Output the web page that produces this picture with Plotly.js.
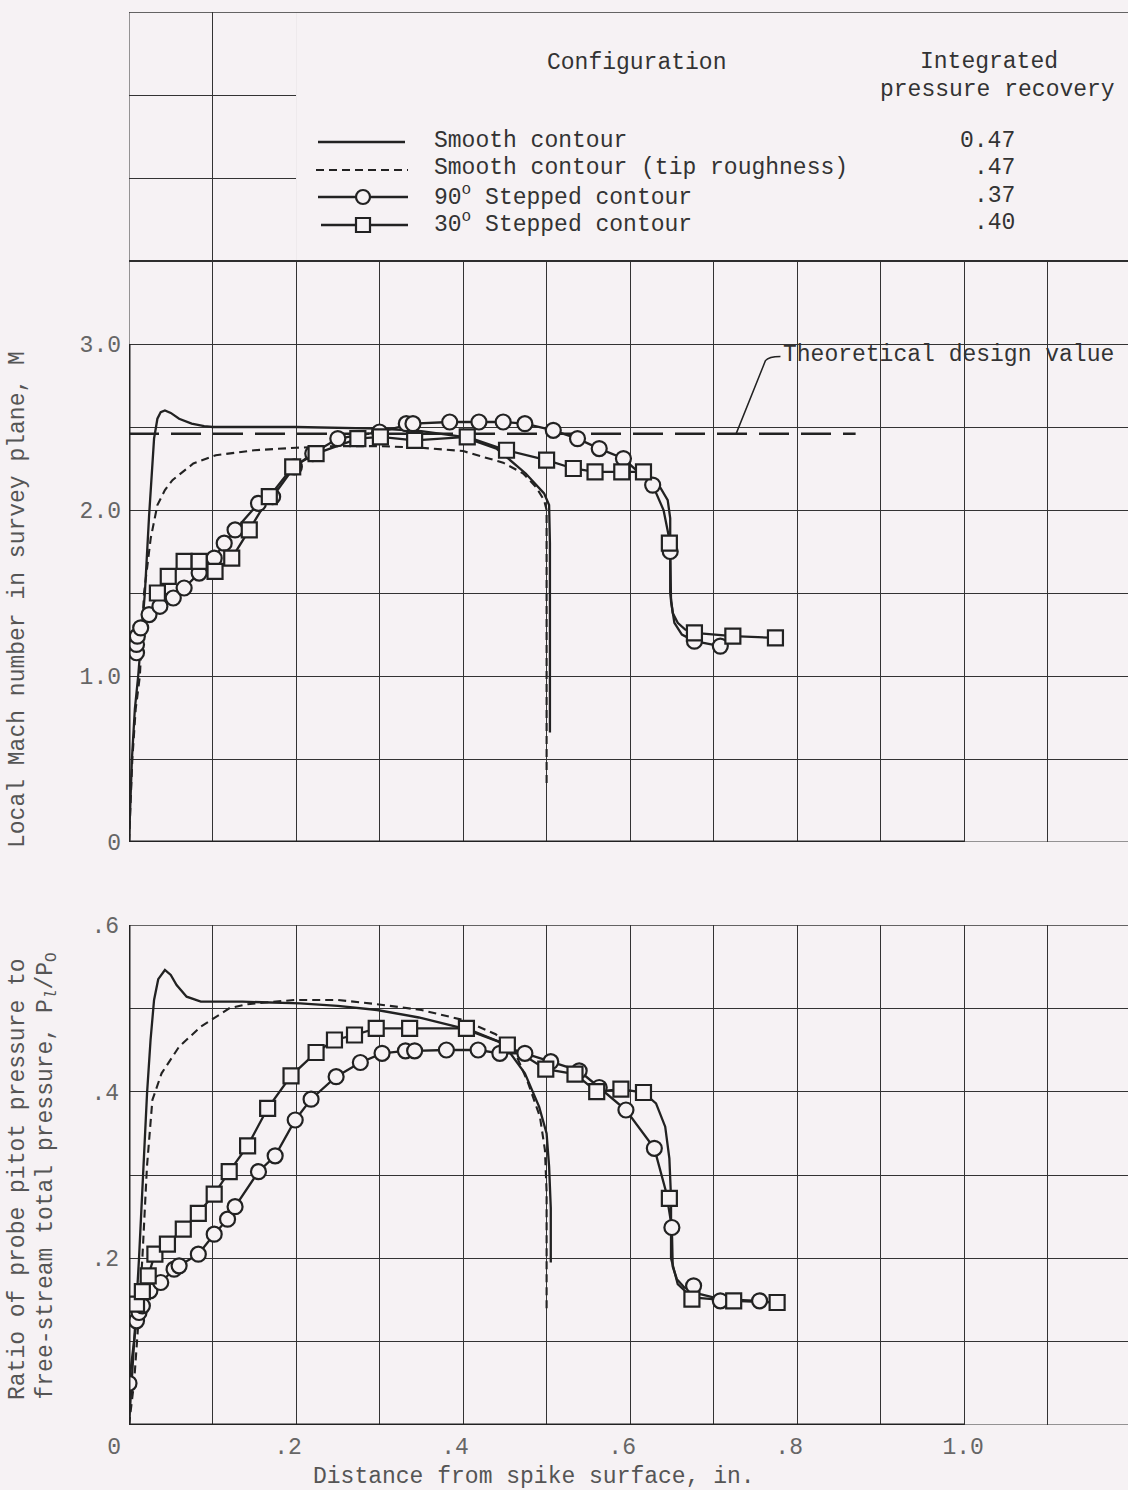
<!DOCTYPE html>
<html>
<head>
<meta charset="utf-8">
<script src="https://cdn.plot.ly/plotly-3.0.1.min.js"></script>
<style>
html,body{margin:0;padding:0;background:#f6f2f4;}
#chart{width:1128px;height:1490px;}
</style>
</head>
<body>
<div id="chart"></div>
<script>
// ---------------- DATA ----------------
// Top panel: local Mach number vs distance from spike surface (in.)
const machSmoothX = [0,0.002,0.0035,0.007,0.011,0.015,0.019,0.024,0.03,0.034,0.038,0.043,0.05,0.06,0.075,0.09,0.1,0.2,0.3,0.35,0.40,0.44,0.475,0.497,0.503,0.504,0.504];
const machSmoothY = [0,0.3,0.5,0.8,1.0,1.25,1.5,1.96,2.43,2.55,2.59,2.60,2.585,2.55,2.52,2.505,2.5,2.5,2.49,2.475,2.44,2.37,2.22,2.1,2.03,1.8,0.66];

const machRoughX = [0,0.004,0.008,0.013,0.018,0.026,0.034,0.043,0.052,0.064,0.077,0.104,0.15,0.2,0.25,0.30,0.35,0.40,0.448,0.472,0.487,0.497,0.5,0.5,0.5];
const machRoughY = [0,0.5,0.8,1.0,1.5,1.83,2.03,2.12,2.18,2.23,2.28,2.33,2.36,2.375,2.385,2.385,2.375,2.355,2.285,2.22,2.14,2.06,2.0,1.6,0.34];

const mach90X = [0.009,0.009,0.010,0.014,0.024,0.037,0.053,0.066,0.084,0.102,0.114,0.127,0.155,0.172,0.198,0.22,0.25,0.30,0.332,0.34,0.384,0.419,0.448,0.474,0.508,0.537,0.563,0.592,0.627,0.648,0.677,0.708];
const mach90Y = [1.14,1.19,1.24,1.29,1.37,1.42,1.47,1.53,1.62,1.71,1.80,1.88,2.04,2.08,2.26,2.34,2.43,2.47,2.52,2.52,2.53,2.53,2.53,2.52,2.48,2.43,2.37,2.31,2.15,1.75,1.21,1.18];
const mach90CurveX = [0.009,0.014,0.024,0.037,0.053,0.066,0.084,0.102,0.114,0.127,0.155,0.172,0.198,0.22,0.25,0.30,0.34,0.384,0.419,0.448,0.474,0.508,0.537,0.563,0.592,0.627,0.640,0.646,0.648,0.649,0.653,0.662,0.677,0.708];
const mach90CurveY = [1.14,1.29,1.37,1.42,1.47,1.53,1.62,1.71,1.80,1.88,2.04,2.08,2.26,2.34,2.43,2.47,2.52,2.53,2.53,2.53,2.52,2.48,2.43,2.37,2.31,2.15,2.0,1.85,1.75,1.45,1.32,1.25,1.21,1.18];

const mach30X = [0.034,0.047,0.066,0.084,0.103,0.123,0.144,0.168,0.196,0.224,0.274,0.301,0.342,0.405,0.452,0.50,0.532,0.558,0.59,0.616,0.647,0.677,0.723,0.774];
const mach30Y = [1.50,1.60,1.69,1.69,1.63,1.71,1.88,2.08,2.26,2.34,2.43,2.44,2.42,2.44,2.36,2.30,2.25,2.23,2.23,2.23,1.80,1.26,1.24,1.23];
const mach30CurveX = [0.034,0.047,0.066,0.084,0.103,0.123,0.144,0.168,0.196,0.224,0.274,0.301,0.342,0.405,0.452,0.50,0.532,0.558,0.59,0.616,0.632,0.645,0.648,0.648,0.651,0.657,0.666,0.677,0.723,0.774];
const mach30CurveY = [1.50,1.60,1.69,1.69,1.63,1.71,1.88,2.08,2.26,2.34,2.43,2.44,2.42,2.44,2.36,2.30,2.25,2.23,2.23,2.23,2.17,2.06,1.95,1.50,1.38,1.32,1.28,1.26,1.24,1.23];

const designX = [0, 0.87];
const designM = [2.46, 2.46];

// Bottom panel: probe pitot pressure / free-stream total pressure
const presSmoothX = [0,0.004,0.008,0.012,0.017,0.0216,0.0258,0.030,0.035,0.043,0.05,0.057,0.069,0.086,0.136,0.205,0.25,0.297,0.347,0.40,0.448,0.474,0.491,0.50,0.503,0.505,0.505];
const presSmoothY = [0,0.06,0.13,0.2,0.31,0.398,0.462,0.51,0.535,0.546,0.54,0.528,0.514,0.508,0.508,0.506,0.503,0.498,0.489,0.476,0.458,0.422,0.382,0.35,0.31,0.26,0.195];

const presRoughX = [0,0.006,0.011,0.016,0.0215,0.028,0.039,0.06,0.086,0.12,0.142,0.198,0.25,0.297,0.35,0.40,0.439,0.461,0.478,0.492,0.498,0.500,0.500];
const presRoughY = [0,0.05,0.12,0.2,0.31,0.39,0.422,0.454,0.478,0.50,0.505,0.51,0.51,0.505,0.498,0.486,0.469,0.45,0.41,0.37,0.33,0.28,0.137];

const pres90X = [0.0,0.009,0.012,0.016,0.025,0.038,0.054,0.06,0.083,0.102,0.118,0.127,0.155,0.175,0.199,0.218,0.248,0.277,0.303,0.331,0.342,0.38,0.418,0.444,0.474,0.505,0.539,0.563,0.595,0.629,0.65,0.676,0.708,0.755];
const pres90Y = [0.05,0.125,0.135,0.143,0.161,0.171,0.187,0.191,0.205,0.229,0.247,0.262,0.304,0.323,0.366,0.391,0.418,0.435,0.446,0.449,0.449,0.45,0.45,0.446,0.446,0.436,0.425,0.405,0.378,0.332,0.237,0.167,0.149,0.149];
const pres90CurveX = [0.0,0.009,0.016,0.025,0.038,0.054,0.06,0.083,0.102,0.118,0.127,0.155,0.175,0.199,0.218,0.248,0.277,0.303,0.331,0.342,0.38,0.418,0.444,0.474,0.505,0.539,0.563,0.595,0.629,0.643,0.650,0.651,0.656,0.665,0.684,0.708,0.755];
const pres90CurveY = [0.05,0.125,0.143,0.161,0.171,0.187,0.191,0.205,0.229,0.247,0.262,0.304,0.323,0.366,0.391,0.418,0.435,0.446,0.449,0.449,0.45,0.45,0.446,0.446,0.436,0.425,0.405,0.378,0.332,0.28,0.237,0.19,0.175,0.165,0.157,0.151,0.149];

const pres30X = [0.009,0.016,0.023,0.031,0.046,0.065,0.083,0.102,0.12,0.142,0.166,0.194,0.224,0.246,0.27,0.296,0.336,0.404,0.453,0.499,0.534,0.56,0.589,0.616,0.647,0.674,0.724,0.776];
const pres30Y = [0.145,0.16,0.179,0.205,0.217,0.235,0.254,0.277,0.304,0.335,0.38,0.419,0.447,0.462,0.468,0.476,0.476,0.476,0.456,0.427,0.421,0.40,0.403,0.399,0.272,0.151,0.149,0.147];
const pres30CurveX = [0.009,0.016,0.023,0.031,0.046,0.065,0.083,0.102,0.12,0.142,0.166,0.194,0.224,0.246,0.27,0.296,0.336,0.404,0.453,0.499,0.534,0.56,0.589,0.616,0.631,0.642,0.647,0.649,0.649,0.657,0.674,0.724,0.776];
const pres30CurveY = [0.145,0.16,0.179,0.205,0.217,0.235,0.254,0.277,0.304,0.335,0.38,0.419,0.447,0.462,0.468,0.476,0.476,0.476,0.456,0.427,0.421,0.40,0.403,0.399,0.386,0.358,0.32,0.272,0.2,0.169,0.153,0.149,0.147];

// Ticks / grid
const gridX = [0,0.1,0.2,0.3,0.4,0.5,0.6,0.7,0.8,0.9,1.0,1.1];
const xTickText = ['0\u00a0','','.2','','.4','','.6','','.8','','\u00a01.0',''];
const machTickVals = [0,0.5,1.0,1.5,2.0,2.5,3.0,3.5,4.0,4.5,5.0];
const machTickText = ['0','','1.0','','2.0','','3.0','','','',''];
const presTickVals = [0,0.1,0.2,0.3,0.4,0.5,0.6];
const presTickText = ['','','.2','','.4','','.6'];

// Legend content
const legendLabels = ['Smooth contour','Smooth contour (tip roughness)','90<sup>o</sup> Stepped contour','30<sup>o</sup> Stepped contour'];
const recoveryValues = ['0.47','.47','.37','.40'];

// ---------------- STYLE / LAYOUT ----------------
const W = 1128, H = 1490, ML = 129;
const PW = W - ML;
const XMAX = PW / 835.2;
const PAPER = '#f6f2f4';
const INK = '#222222';
const GRID = '#333333';
const FONT = 'Liberation Mono, Courier New, monospace';
const px = v => (v - ML) / PW;
const py = v => 1 - v / H;

const lineStyle = {color: INK, width: 2.3};
const markerCircle = {symbol: 'circle', size: 15, color: PAPER, line: {color: INK, width: 2.2}};
const markerSquare = {symbol: 'square', size: 15, color: PAPER, line: {color: INK, width: 2.2}};

function lineTrace(x, y, xa, ya, extra) {
  return Object.assign({type: 'scatter', mode: 'lines', x: x, y: y, xaxis: xa, yaxis: ya,
    line: Object.assign({}, lineStyle), hoverinfo: 'skip'}, extra || {});
}
function markTrace(x, y, xa, ya, marker) {
  return {type: 'scatter', mode: 'markers', x: x, y: y, xaxis: xa, yaxis: ya, marker: marker, hoverinfo: 'skip'};
}

const traces = [
  lineTrace(designX, designM, 'x', 'y', {line: {color: INK, width: 2.5, dash: '30px,12px'}}),
  lineTrace(machSmoothX, machSmoothY, 'x', 'y'),
  lineTrace(machRoughX, machRoughY, 'x', 'y', {line: {color: INK, width: 2.1, dash: '8px,5px'}}),
  lineTrace(mach90CurveX, mach90CurveY, 'x', 'y'),
  lineTrace(mach30CurveX, mach30CurveY, 'x', 'y'),
  markTrace(mach90X, mach90Y, 'x', 'y', markerCircle),
  markTrace(mach30X, mach30Y, 'x', 'y', markerSquare),

  lineTrace(presSmoothX, presSmoothY, 'x2', 'y2'),
  lineTrace(presRoughX, presRoughY, 'x2', 'y2', {line: {color: INK, width: 2.1, dash: '8px,5px'}}),
  lineTrace(pres90CurveX, pres90CurveY, 'x2', 'y2'),
  lineTrace(pres30CurveX, pres30CurveY, 'x2', 'y2'),
  markTrace(pres90X, pres90Y, 'x2', 'y2', markerCircle),
  markTrace(pres30X, pres30Y, 'x2', 'y2', markerSquare)
];

const axisCommon = {showgrid: true, gridcolor: GRID, gridwidth: 1, zeroline: false, showline: false, ticks: '', tickmode: 'array',
  tickfont: {family: FONT, size: 23, color: '#666'}};

const thin = {color: GRID, width: 1};
const shapes = [
  // blank legend box region (covers grid)
  {type: 'rect', xref: 'x', yref: 'y', x0: 0.2, x1: XMAX + 0.01, y0: 3.5, y1: 5.0, fillcolor: PAPER, line: {width: 0}},
  // frame edges that fall on the axis range limits
  {type: 'line', xref: 'x', yref: 'y', x0: 0, x1: XMAX + 0.01, y0: 5.0, y1: 5.0, line: {color: GRID, width: 1.5}},
  {type: 'line', xref: 'x', yref: 'y', x0: 0, x1: 0, y0: 3.0, y1: 5.0, line: thin},
  {type: 'line', xref: 'x', yref: 'y', x0: 1.0, x1: XMAX + 0.01, y0: 0, y1: 0, line: thin},
  {type: 'line', xref: 'x2', yref: 'y2', x0: 0, x1: XMAX + 0.01, y0: 0.6, y1: 0.6, line: {color: GRID, width: 1.5}},
  {type: 'line', xref: 'x2', yref: 'y2', x0: 1.0, x1: XMAX + 0.01, y0: 0, y1: 0, line: thin},
  {type: 'line', xref: 'x', yref: 'y', x0: 0, x1: XMAX + 0.01, y0: 3.5, y1: 3.5, line: {color: '#2e2e2e', width: 2}},
  // heavy axis lines
  {type: 'line', xref: 'x', yref: 'y', x0: 0, x1: 1.0, y0: 0, y1: 0, line: {color: INK, width: 3}},
  {type: 'line', xref: 'x', yref: 'y', x0: 0, x1: 0, y0: 0, y1: 3.0, line: {color: INK, width: 3}},
  {type: 'line', xref: 'x2', yref: 'y2', x0: 0, x1: 1.0, y0: 0, y1: 0, line: {color: INK, width: 3}},
  {type: 'line', xref: 'x2', yref: 'y2', x0: 0, x1: 0, y0: 0, y1: 0.6, line: {color: INK, width: 3}},
  // leader for design value label
  {type: 'path', xref: 'x', yref: 'y', path: 'M 0.727 2.46 L 0.762 2.90 Q 0.766 2.925 0.780 2.925', line: {color: INK, width: 1.5}}
];

// legend samples (drawn as decoration)
const rowY = [142, 170, 197, 225];
shapes.push({type: 'line', xref: 'paper', yref: 'paper', x0: px(318), x1: px(405), y0: py(rowY[0]), y1: py(rowY[0]), line: {color: INK, width: 2.3}});
shapes.push({type: 'line', xref: 'paper', yref: 'paper', x0: px(316), x1: px(408), y0: py(rowY[1]), y1: py(rowY[1]), line: {color: INK, width: 2.1, dash: '8px,5px'}});
shapes.push({type: 'line', xref: 'paper', yref: 'paper', x0: px(318), x1: px(408), y0: py(rowY[2]), y1: py(rowY[2]), line: {color: INK, width: 2.3}});
shapes.push({type: 'circle', xref: 'paper', yref: 'paper', x0: px(356), x1: px(370), y0: py(rowY[2] + 7), y1: py(rowY[2] - 7), fillcolor: PAPER, line: {color: INK, width: 2.2}});
shapes.push({type: 'line', xref: 'paper', yref: 'paper', x0: px(321), x1: px(408), y0: py(rowY[3]), y1: py(rowY[3]), line: {color: INK, width: 2.3}});
shapes.push({type: 'rect', xref: 'paper', yref: 'paper', x0: px(356), x1: px(370), y0: py(rowY[3] + 7), y1: py(rowY[3] - 7), fillcolor: PAPER, line: {color: INK, width: 2.2}});

const TXT = '#333333';
const annFont = {family: FONT, size: 23, color: TXT};
const annotations = [];
function ann(text, x, y, xanchor, extra) {
  annotations.push(Object.assign({text: text, xref: 'paper', yref: 'paper', x: px(x), y: py(y), xanchor: xanchor, yanchor: 'middle',
    showarrow: false, font: annFont}, extra || {}));
}
ann('Configuration', 636, 63, 'center');
ann('Integrated', 989, 62, 'center');
ann('pressure recovery', 997, 90, 'center');
const textRowY = [141, 168, 196, 223];
legendLabels.forEach((t, i) => ann(t, 432, textRowY[i], 'left'));
recoveryValues.forEach((t, i) => ann(t, 1017, textRowY[i], 'right'));

annotations.push({text: 'Theoretical design value', xref: 'x', yref: 'y', x: 0.781, y: 2.935, xanchor: 'left', yanchor: 'middle', showarrow: false, font: annFont});

const titleFont = {family: FONT, size: 23, color: '#555'};
annotations.push({text: 'Local Mach number in survey plane, M', xref: 'paper', yref: 'paper', x: px(18), y: py(600), xanchor: 'center', yanchor: 'middle', textangle: -90, showarrow: false, font: titleFont});
annotations.push({text: 'Ratio of probe pitot pressure to', xref: 'paper', yref: 'paper', x: px(18), y: py(1402), xanchor: 'center', yanchor: 'bottom', textangle: -90, showarrow: false, font: titleFont});
annotations.push({text: 'free-stream total pressure, P<sub><i>l</i></sub>/P<sub>O</sub>', xref: 'paper', yref: 'paper', x: px(47), y: py(1402), xanchor: 'center', yanchor: 'bottom', textangle: -90, showarrow: false, font: titleFont});
annotations.push({text: 'Distance from spike surface, in.', xref: 'paper', yref: 'paper', x: px(534), y: py(1477), xanchor: 'center', yanchor: 'middle', showarrow: false, font: titleFont});

const layout = {
  width: W, height: H,
  margin: {l: ML, r: 0, t: 0, b: 0},
  paper_bgcolor: PAPER, plot_bgcolor: PAPER,
  showlegend: false,
  font: {family: FONT, size: 23, color: TXT},
  xaxis: Object.assign({}, axisCommon, {domain: [0, 1], range: [0, XMAX], anchor: 'y', tickvals: gridX, showticklabels: false}),
  yaxis: Object.assign({}, axisCommon, {domain: [py(842), py(12)], range: [0, 5.0], anchor: 'x', tickvals: machTickVals, ticktext: machTickText, ticklabelstandoff: 7}),
  xaxis2: Object.assign({}, axisCommon, {domain: [0, 1], range: [0, XMAX], anchor: 'y2', tickvals: gridX, ticktext: xTickText, ticklabelshift: -8, ticklabelstandoff: 5}),
  yaxis2: Object.assign({}, axisCommon, {domain: [py(1425), py(925)], range: [0, 0.6], anchor: 'x2', tickvals: presTickVals, ticktext: presTickText, ticklabelstandoff: 9}),
  shapes: shapes,
  annotations: annotations
};

Plotly.newPlot('chart', traces, layout, {displayModeBar: false, staticPlot: true});
</script>
</body>
</html>
